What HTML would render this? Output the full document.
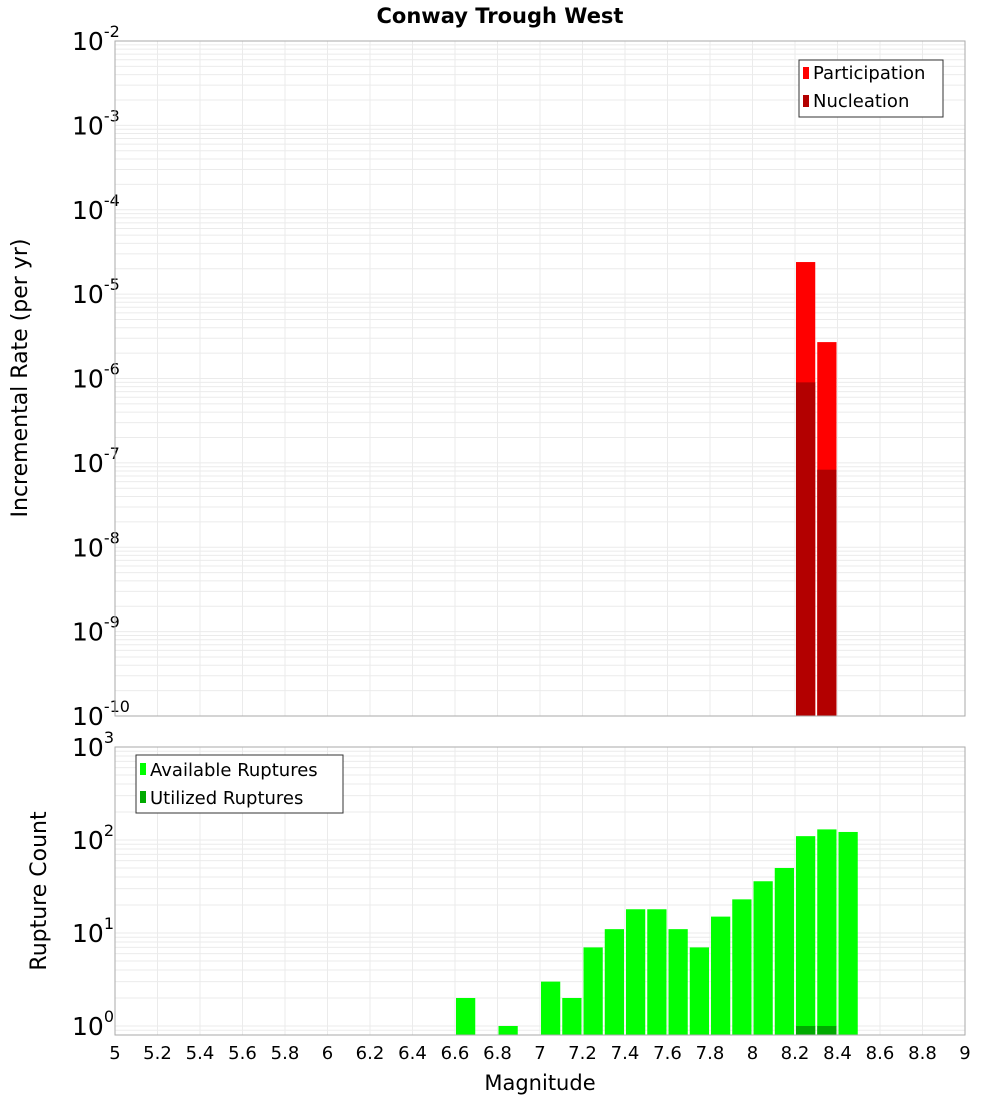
<!DOCTYPE html>
<html><head><meta charset="utf-8"><style>
body{margin:0;background:#fff;}
svg text{font-family:"DejaVu Sans","Liberation Sans",sans-serif;}
</style></head><body>
<svg id="c" width="1000" height="1100" viewBox="0 0 1000 1100" xmlns="http://www.w3.org/2000/svg">
<text x="500" y="23" text-anchor="middle" font-size="21" font-weight="bold">Conway Trough West</text>
<g id="gtop"></g><g id="gbot"></g>
<text transform="translate(27,378) rotate(-90)" text-anchor="middle" font-size="22">Incremental Rate (per yr)</text>
<text transform="translate(46,891) rotate(-90)" text-anchor="middle" font-size="22">Rupture Count</text>
<text x="540" y="1090" text-anchor="middle" font-size="21">Magnitude</text>
<g>
<rect x="799" y="60" width="144" height="57" fill="#fff" stroke="#333"/>
<rect x="803" y="67" width="6" height="12" fill="#ff0000"/><text x="813" y="79" font-size="18">Participation</text>
<rect x="803" y="95" width="6" height="12" fill="#b30000"/><text x="813" y="107" font-size="18">Nucleation</text>
</g>
<g>
<rect x="136" y="755" width="207" height="58" fill="#fff" stroke="#333"/>
<rect x="140" y="763" width="6" height="12" fill="#00ff00"/><text x="150" y="776" font-size="18">Available Ruptures</text>
<rect x="140" y="791" width="6" height="12" fill="#00aa00"/><text x="150" y="804" font-size="18">Utilized Ruptures</text>
</g>
</svg>
<script>
const binStarts=[6.6,6.8,7.0,7.1,7.2,7.3,7.4,7.5,7.6,7.7,7.8,7.9,8.0,8.1,8.2,8.3,8.4];
const available=[2,1,3,2,7,11,18,18,11,7,15,23,36,50,110,130,122];
const utilBins=[8.2,8.3];
const utilized=[1,1];
const rateBins=[8.2,8.3];
const participation=[2.4e-5,2.7e-6];
const nucleation=[9e-7,8.3e-8];
const xTicks=[5,5.2,5.4,5.6,5.8,6,6.2,6.4,6.6,6.8,7,7.2,7.4,7.6,7.8,8,8.2,8.4,8.6,8.8,9];
const topExps=[-2,-3,-4,-5,-6,-7,-8,-9,-10];
const botExps=[3,2,1,0];

const NS="http://www.w3.org/2000/svg";
const X0=115,X1=965;
const xs=m=>X0+(m-5)/4*(X1-X0);
function mk(p,t,a){const e=document.createElementNS(NS,t);for(const k in a)e.setAttribute(k,a[k]);p.appendChild(e);return e;}
function panel(g,y0,y1,lmin,lmax,exps,drawXLabels){
  const ys=v=>y1-(Math.log10(v)-lmin)/(lmax-lmin)*(y1-y0);
  for(let d=Math.floor(lmin);d<Math.ceil(lmax);d++)for(let k=1;k<10;k++){
    const v=k*Math.pow(10,d),l=Math.log10(v);if(l<lmin||l>lmax)continue;
    const y=ys(v);
    const ln=mk(g,'line',{x1:X0,x2:X1,y1:y,y2:y,stroke:'#ebebeb','stroke-width':1});
    
    
  }
  xTicks.forEach(t=>{const x=xs(t);
    const ln=mk(g,'line',{x1:x,x2:x,y1:y0,y2:y1,stroke:'#ebebeb','stroke-width':1});
    
    
    if(drawXLabels){const tx=mk(g,'text',{x:x,y:1059,'text-anchor':'middle','font-size':18});tx.textContent=String(t);
      
      }
  });
  exps.forEach(e=>{const y=ys(Math.pow(10,e));
    const tx=mk(g,'text',{x:72,y:y+9,'font-size':25});
    
    
    tx.textContent='10';
    const s=mk(tx,'tspan',{dy:-13,'font-size':16});s.textContent=String(e);
  });
  return ys;
}
const gTop=document.getElementById('gtop'),gBot=document.getElementById('gbot');
const yt=panel(gTop,41,716,-10,-2,topExps,false);
const yb=panel(gBot,747,1035,Math.log10(0.8),3,botExps,true);
function bar(g,m,v,ys,base,fill,name){
  const x=xs(m)+1,w=xs(m+0.1)-xs(m)-2,y=ys(v);
  const r=mk(g,'rect',{x:x,y:y,width:w,height:base-y,fill:fill});
  
  
}
rateBins.forEach((m,i)=>bar(gTop,m,participation[i],yt,716,'#ff0000','participation-bar'));
rateBins.forEach((m,i)=>bar(gTop,m,nucleation[i],yt,716,'#b30000','nucleation-bar'));
binStarts.forEach((m,i)=>bar(gBot,m,available[i],yb,1035,'#00ff00','available-bar'));
utilBins.forEach((m,i)=>bar(gBot,m,utilized[i],yb,1035,'#00aa00','utilized-bar'));
const b1=mk(gTop,'rect',{x:X0,y:41,width:X1-X0,height:675,fill:'none',stroke:'#aaa'});


const b2=mk(gBot,'rect',{x:X0,y:747,width:X1-X0,height:288,fill:'none',stroke:'#aaa'});


</script>
</body></html>
